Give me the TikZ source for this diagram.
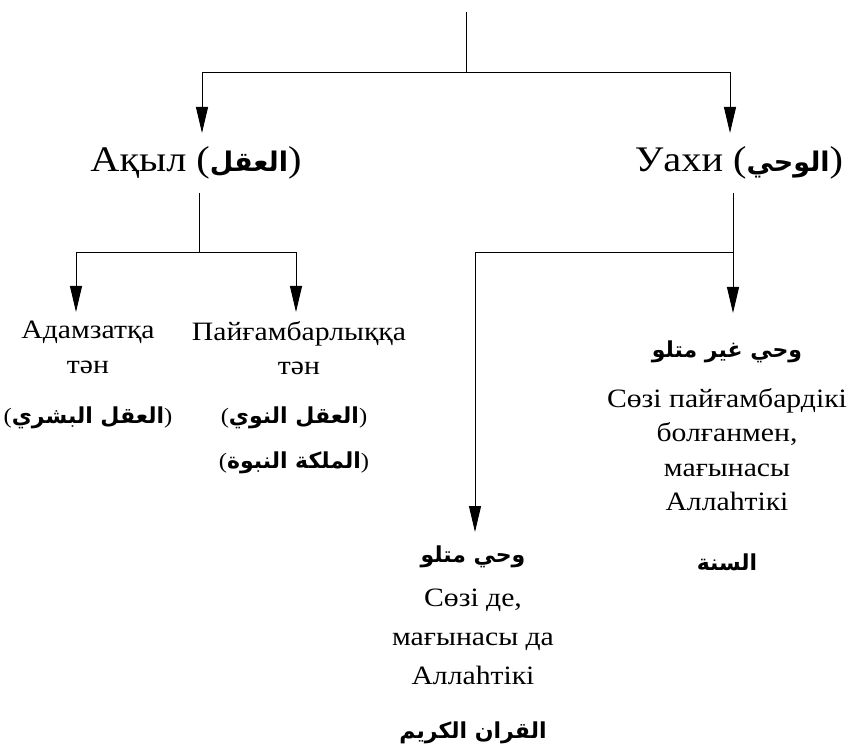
\documentclass[tikz,border=0pt]{standalone}
\usepackage{fontspec}
\setmainfont[FakeStretch=1.12]{Liberation Serif}
\newfontfamily\ar[Script=Arabic]{DejaVu Sans}
\newcommand\arb[1]{{\ar\bfseries\beginR #1\endR}}
\TeXXeTstate=1
\usetikzlibrary{arrows.meta}
\begin{document}
\begin{tikzpicture}[x=1pt,y=-1pt,
  conn/.style={line width=1pt,black},
  arr/.style={conn,-{Triangle[length=26pt,width=12pt]}},
  head/.style={inner sep=0pt,font=\fontsize{36}{42}\selectfont},
  txt/.style={inner sep=0pt,align=center,font=\fontsize{26.5}{34.5}\selectfont},
  txtb/.style={inner sep=0pt,align=center,font=\fontsize{26.5}{39}\selectfont},
  artxt/.style={inner sep=0pt,font=\fontsize{22}{26}\selectfont}]
\useasboundingbox[fill=white] (0,0) rectangle (854,751);
% heads
\node[head] (aqyl) at (196,163) {Ақыл ({\fontsize{27}{32}\selectfont\arb{العقل}})};
\node[head] (uakhi) at (739,163) {Уахи ({\fontsize{27}{32}\selectfont\arb{الوحي}})};
% left sub
\node[txt,anchor=north] (ad) at (88,321) {Адамзатқа\\тән};
\node[txt,anchor=north] (pay) at (299,321) {Пайғамбарлыққа\\тән};
\node[artxt] (adar) at (88,418) {(\arb{العقل البشري})};
\node[artxt] (payar1) at (294,418) {(\arb{العقل النوي})};
\node[artxt] (payar2) at (294,463) {(\arb{الملكة النبوة})};
% right sub
\node[artxt] (gh) at (727,352) {\arb{وحي غير متلو}};
\node[txt,anchor=north] (ghtxt) at (727,388) {Сөзі пайғамбардікі\\болғанмен,\\мағынасы\\Аллаһтікі};
\node[artxt] (sunna) at (727,562) {\arb{السنة}};
\node[artxt] (mat) at (473,557) {\arb{وحي متلو}};
\node[txtb,anchor=north] (mattxt) at (473,589) {Сөзі де,\\мағынасы да\\Аллаһтікі};
\node[artxt] (quran) at (473,733) {\arb{القران الكريم}};
% coordinates
\coordinate (top) at (466,12);
\coordinate (j1) at (466,73);
\coordinate (aqylin) at (202,133);
\coordinate (uakhiin) at (730,133);
\coordinate (aqylout) at (199,193);
\coordinate (j2) at (199,253);
\coordinate (adin) at (76,312);
\coordinate (payin) at (296,312);
\coordinate (uout) at (733,193);
\coordinate (j3) at (733,253);
\coordinate (ghin) at (733,313);
\coordinate (matin) at (475,532);
% connectors
\draw[conn] (top) -- (j1);
\draw[arr] (j1) -| (aqylin);
\draw[arr] (j1) -| (uakhiin);
\draw[conn] (aqylout) -- (j2);
\draw[arr] (j2) -| (adin);
\draw[arr] (j2) -| (payin);
\draw[arr] (uout) -- (ghin);
\draw[arr] (j3) -| (matin);
\end{tikzpicture}
\end{document}
